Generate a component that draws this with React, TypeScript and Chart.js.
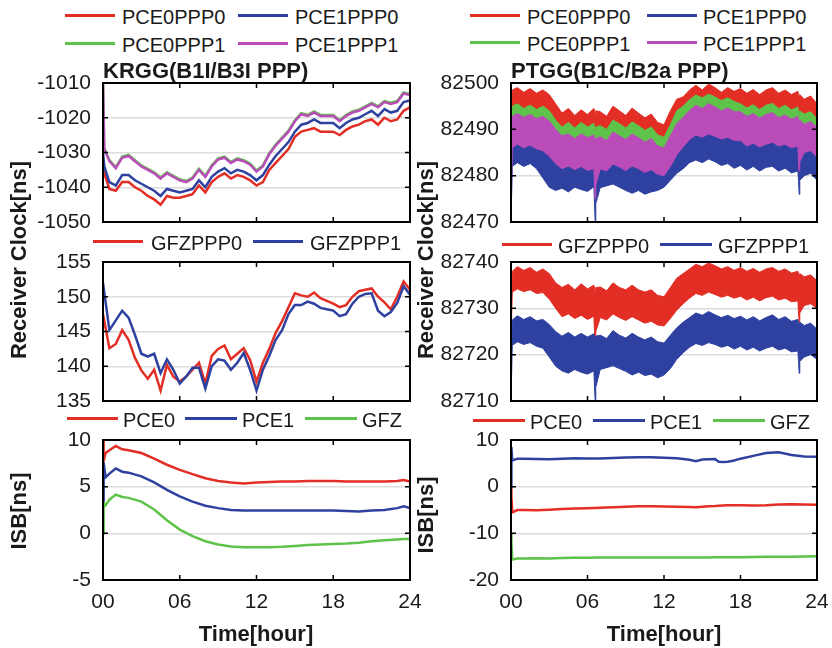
import React, { useEffect, useRef } from 'react';
import { Chart, registerables } from 'chart.js';
Chart.register(...registerables);

const FONT = '"Liberation Sans", Arial, Helvetica, sans-serif';
const RED = 'rgb(226,46,36)';
const BLUE = 'rgb(47,65,160)';
const GREEN = 'rgb(95,194,74)';
const MAGENTA = 'rgb(186,76,186)';
const TEXT = '#1a1a1a';

// ---------- labels ----------
const TOP_SERIES = ['PCE0PPP0', 'PCE1PPP0', 'PCE0PPP1', 'PCE1PPP1'];
const MID_SERIES = ['GFZPPP0', 'GFZPPP1'];
const ISB_SERIES = ['PCE0', 'PCE1', 'GFZ'];
const HOUR_TICKS = [0, 6, 12, 18, 24];
const HOUR_LABELS = ['00', '06', '12', '18', '24'];

// ---------- KRGG clock (top-left) ----------
const LT_T = [
  0, 0.1, 0.5, 1, 1.5, 2, 2.5, 3, 3.5, 4,
  4.5, 5, 5.5, 6, 6.5, 7, 7.5, 8, 8.5, 9,
  9.5, 10, 10.5, 11, 11.5, 12, 12.5, 13, 13.5, 14,
  14.5, 15, 15.5, 16, 16.5, 17, 17.5, 18, 18.5, 19,
  19.5, 20, 20.5, 21, 21.5, 22, 22.5, 23, 23.5, 24,
];
const KRGG_PCE0PPP0 = [
  -1035, -1036, -1040.5, -1041, -1038.5, -1038.5, -1040, -1041, -1042.5, -1043.5,
  -1045, -1042.5, -1043, -1043, -1042.5, -1042, -1039.5, -1041.5, -1038.5, -1037,
  -1036, -1037.5, -1036.5, -1037, -1038, -1039.5, -1038.5, -1035, -1033, -1031,
  -1029, -1025.5, -1024, -1023.5, -1023, -1024, -1024, -1024, -1025, -1023.5,
  -1022.5, -1022, -1021, -1020.5, -1022, -1020, -1021, -1020.5, -1018, -1017,
];
const KRGG_PCE1PPP0 = [
  -1030, -1034, -1038.5, -1039.5, -1036.5, -1036.5, -1038, -1039, -1040, -1041,
  -1042.5, -1040.5, -1041, -1041.5, -1041, -1040.5, -1038, -1040, -1037, -1035.5,
  -1034.5, -1036, -1035, -1035.5, -1036.5, -1038, -1036.5, -1033.5, -1031, -1029,
  -1027, -1024, -1022, -1021.5, -1020.5, -1021.5, -1021.5, -1021.5, -1023, -1021.5,
  -1020.5, -1020, -1019, -1018, -1019.5, -1017.5, -1018.5, -1018, -1015.5, -1015,
];
const KRGG_PCE0PPP1 = [
  -1010, -1028.7, -1032.2, -1034.2, -1031.2, -1030.7, -1032.2, -1033.7, -1034.7, -1035.7,
  -1037.2, -1035.7, -1036.7, -1037.7, -1038.2, -1037.2, -1034.7, -1036.7, -1033.7, -1031.7,
  -1031.2, -1032.7, -1031.7, -1032.2, -1033.2, -1035.2, -1033.7, -1030.2, -1027.7, -1025.7,
  -1023.7, -1020.7, -1018.7, -1019.2, -1018.2, -1019.2, -1019.2, -1019.2, -1020.7, -1019.2,
  -1018.2, -1017.7, -1016.7, -1015.7, -1016.7, -1015.2, -1015.7, -1015.2, -1012.7, -1013.2,
];
const KRGG_PCE1PPP1 = [
  -1010, -1029, -1032.5, -1034.5, -1031.5, -1031, -1032.5, -1034, -1035, -1036,
  -1037.5, -1036, -1037, -1038, -1038.5, -1037.5, -1035, -1037, -1034, -1032,
  -1031.5, -1033, -1032, -1032.5, -1033.5, -1035.5, -1034, -1030.5, -1028, -1026,
  -1024, -1021, -1019, -1019.5, -1018.5, -1019.5, -1019.5, -1019.5, -1021, -1019.5,
  -1018.5, -1018, -1017, -1016, -1017, -1015.5, -1016, -1015.5, -1013, -1013.5,
];

// ---------- KRGG GFZ clock (middle-left) ----------
const LM_T = [
  0, 0.5, 1, 1.5, 2, 2.5, 3, 3.5, 4, 4.5,
  5, 5.5, 6, 6.5, 7, 7.5, 8, 8.5, 9, 9.5,
  10, 10.5, 11, 11.5, 12, 12.5, 13, 13.5, 14, 14.5,
  15, 15.5, 16, 16.5, 17, 17.5, 18, 18.5, 19, 19.5,
  20, 20.5, 21, 21.5, 22, 22.5, 23, 23.5, 24,
];
const KRGG_GFZPPP0 = [
  147.5, 142.6, 143.2, 145.2, 143.8, 141.2, 139.4, 138.2, 139.5, 136.5,
  140.2, 138.5, 137.8, 138.5, 139.5, 140.5, 137.5, 141.5, 142.5, 143.0,
  141.0, 141.8, 142.6, 140.9, 137.8, 140.5, 142.5, 144.8, 146.5, 148.5,
  150.5, 150.2, 150.0, 150.6, 149.8, 149.4, 149.0, 148.5, 148.8, 150.0,
  150.8, 151.0, 151.2, 150.0, 149.2, 148.2, 150.0, 152.2, 151.0,
];
const KRGG_GFZPPP1 = [
  152.0, 145.2, 146.6, 148.0, 147.0, 144.5, 141.8, 141.4, 141.8, 139.0,
  141.0, 139.5, 137.5, 138.5, 139.8, 139.8, 136.8, 140.0, 141.0, 140.8,
  139.5, 140.5, 141.9, 139.5, 136.5, 139.5, 141.5, 143.8, 145.2, 147.5,
  148.8, 148.8, 149.3, 149.0, 148.4, 148.2, 148.0, 147.2, 147.5, 149.0,
  150.0, 150.4, 150.5, 148.0, 147.2, 147.8, 149.1, 151.5, 150.3,
];

// ---------- KRGG ISB (bottom-left) ----------
const LB_T = [0, 0.05, 0.2, 0.5, 1, 1.5, 2, 3, 4, 5, 6, 7, 8, 9, 10, 11, 12, 13, 14, 15, 16, 17, 18, 19, 20, 21, 22, 23, 23.5, 24];
const KRGG_ISB_PCE0 = [10, 7.8, 8.6, 8.9, 9.35, 9.0, 8.9, 8.6, 8.0, 7.35, 6.8, 6.35, 5.9, 5.6, 5.45, 5.35, 5.45, 5.5, 5.55, 5.55, 5.6, 5.6, 5.6, 5.55, 5.55, 5.55, 5.55, 5.6, 5.7, 5.55];
const KRGG_ISB_PCE1 = [3.3, 7.6, 6.0, 6.4, 6.95, 6.6, 6.5, 6.1, 5.45, 4.65, 3.95, 3.4, 2.95, 2.7, 2.5, 2.45, 2.45, 2.45, 2.45, 2.45, 2.45, 2.45, 2.45, 2.4, 2.35, 2.45, 2.5, 2.7, 2.9, 2.7];
const KRGG_ISB_GFZ = [0, 3.3, 3.0, 3.6, 4.15, 3.9, 3.8, 3.4, 2.55, 1.4, 0.4, -0.3, -0.85, -1.2, -1.4, -1.5, -1.5, -1.5, -1.45, -1.35, -1.25, -1.2, -1.15, -1.1, -1.0, -0.85, -0.75, -0.65, -0.6, -0.6];

// ---------- PTGG clocks (top/middle right): noise envelopes ----------
const RT_T = [
  0, 0.1, 0.5, 1, 1.5, 2, 2.5, 3, 3.5, 4,
  4.5, 5, 5.5, 6, 6.5, 6.55, 6.6, 6.65, 7, 7.5,
  8, 8.5, 9, 9.5, 10, 10.5, 11, 11.5, 12, 12.5,
  13, 13.5, 14, 14.5, 15, 15.5, 16, 16.5, 17, 17.5,
  18, 18.5, 19, 19.5, 20, 20.5, 21, 21.5, 22, 22.5,
  22.55, 22.6, 22.65, 23, 23.5, 24,
];
const PTGG_PCE0PPP0_HI = [
  82494, 82498.5, 82499, 82498, 82498.8, 82497.8, 82498.5, 82497.5, 82495.5, 82493.5,
  82494.5, 82493, 82494.2, 82493.2, 82494.5, 82494, 82493, 82494, 82493.8, 82492.8,
  82495, 82494, 82493, 82494.6, 82493.5, 82492.5, 82493.3, 82491.5, 82491, 82494,
  82496.5, 82497, 82498.5, 82499.5, 82498.5, 82499.8, 82499, 82498, 82499, 82498.2,
  82498.8, 82497.8, 82498.6, 82497.5, 82498.5, 82499, 82497.8, 82498.5, 82497.5, 82498.2,
  82497.5, 82497, 82497.5, 82496.5, 82497.2, 82495.5,
];
const PTGG_PCE0PPP0_LO = [
  82488, 82492.5, 82492.8, 82492.2, 82492.6, 82492, 82492.3, 82491.5, 82489.5, 82487.8,
  82488.2, 82487.5, 82488, 82487.4, 82488, 82486, 82484, 82486, 82487.6, 82487,
  82488.5, 82488, 82487.2, 82488, 82487.5, 82486.8, 82487, 82485.8, 82485.2, 82487.8,
  82490, 82491, 82492.2, 82493, 82492.5, 82493.2, 82492.8, 82492, 82492.6, 82492,
  82492.4, 82491.8, 82492.2, 82491.5, 82492, 82492.5, 82491.8, 82492, 82491.4, 82491.8,
  82490, 82489, 82490, 82490.5, 82490.8, 82489.5,
];
const PTGG_PCE0PPP1_HI = [
  82490, 82495, 82495.5, 82494.5, 82495.2, 82494.3, 82495, 82494, 82492, 82490.5,
  82491.5, 82490.3, 82491.5, 82490.5, 82491.3, 82490.5, 82489.5, 82490.5, 82490.8, 82490,
  82492, 82491.2, 82490.3, 82491.6, 82490.8, 82489.8, 82490.5, 82488.8, 82488.3, 82491,
  82494, 82495, 82496.4, 82497.4, 82496.8, 82497.6, 82497, 82496.2, 82496.8, 82496,
  82495.5, 82494.6, 82495.3, 82494.3, 82495.2, 82495.6, 82494.5, 82495.2, 82494.2, 82494.8,
  82494, 82493.5, 82494, 82493.3, 82493.8, 82492.3,
];
const PTGG_PCE0PPP1_LO = [
  82484, 82489, 82489.6, 82488.8, 82489.3, 82488.5, 82489, 82488.2, 82486.2, 82484.8,
  82485.4, 82484.5, 82485.3, 82484.6, 82485.2, 82483, 82481, 82483, 82484.8, 82484.2,
  82486, 82485.3, 82484.5, 82485.6, 82484.8, 82484, 82484.6, 82483, 82482.5, 82485,
  82488.3, 82489, 82490.4, 82491.3, 82490.7, 82491.6, 82490.9, 82490.1, 82490.8, 82490.1,
  82489.5, 82488.7, 82489.3, 82488.5, 82489.2, 82489.6, 82488.7, 82489.2, 82488.3, 82488.8,
  82487, 82486, 82487, 82487.3, 82487.8, 82486.5,
];
const PTGG_PCE1PPP1_HI = [
  82488, 82492.8, 82493.4, 82492.6, 82493.2, 82492.3, 82492.8, 82491.8, 82490, 82488.6,
  82489, 82488, 82489, 82488.2, 82488.8, 82488, 82487.3, 82488, 82488.4, 82487.6,
  82489.4, 82488.6, 82487.8, 82489, 82488.2, 82487.2, 82488, 82486.4, 82486, 82488.6,
  82491.2, 82492.6, 82494, 82495.2, 82494.5, 82495.6, 82494.8, 82494, 82494.6, 82493.8,
  82493.8, 82492.8, 82493.4, 82492.4, 82493.2, 82493.6, 82492.5, 82493.1, 82492.2, 82492.8,
  82492, 82491.5, 82492, 82491.1, 82491.7, 82490.4,
];
const PTGG_PCE1PPP1_LO = [
  82470, 82486, 82486.8, 82486, 82486.6, 82485.8, 82485.4, 82484.2, 82482.6, 82481.5,
  82482.1, 82481.3, 82482, 82481.1, 82481.5, 82478, 82475, 82478, 82481.5, 82481,
  82482.5, 82481.9, 82481.1, 82482.1, 82481.5, 82480.7, 82481.3, 82480.3, 82480, 82482,
  82484.5, 82486.2, 82487.8, 82488.8, 82488.3, 82489, 82488.5, 82487.9, 82488.3, 82487.6,
  82487.6, 82486.4, 82487, 82486.2, 82486.8, 82487.2, 82486.4, 82486.8, 82486, 82486.4,
  82483, 82481, 82483, 82485, 82485.4, 82484,
];
const PTGG_PCE1PPP0_HI = [
  82486, 82487.5, 82488, 82487.2, 82487.8, 82486.8, 82485.5, 82484.5, 82483.5, 82483.2,
  82483.8, 82483, 82483.6, 82482.8, 82483.4, 82483, 82482.5, 82483, 82483, 82482.4,
  82483.6, 82483, 82482.3, 82483, 82482.4, 82481.8, 82482.4, 82482, 82482.2, 82484,
  82486, 82487, 82488.2, 82489.2, 82488.8, 82490, 82489.2, 82488.2, 82488.8, 82487.8,
  82488.3, 82487.4, 82488, 82487, 82487.8, 82488, 82487, 82487.6, 82486.6, 82487,
  82486.5, 82486, 82486.5, 82485.5, 82486, 82484.5,
];
const PTGG_PCE1PPP0_LO = [
  82470, 82482, 82482.8, 82482, 82482.6, 82481.5, 82479.5, 82477.5, 82476.8, 82477.3,
  82476.5, 82477.5, 82477, 82476.6, 82477.6, 82474, 82470, 82474, 82477.4, 82477.8,
  82478.2, 82477.5, 82476.8, 82476.2, 82476.8, 82476, 82476.5, 82476.8, 82477.5, 82479,
  82480.5, 82481.5, 82482.8, 82483.4, 82482.8, 82483.6, 82483, 82482.2, 82482.6, 82481.6,
  82482.2, 82481.2, 82482, 82481, 82481.8, 82482, 82481, 82481.6, 82480.6, 82481,
  82479, 82476, 82479, 82480, 82480.5, 82479,
];
const PTGG_GFZPPP0_HI = [
  82730, 82738, 82739, 82738.2, 82738.8, 82737.8, 82738.5, 82737.5, 82735.5, 82734.5,
  82735.2, 82734, 82735.3, 82734.2, 82735, 82734.5, 82733, 82734.5, 82734.6, 82733.8,
  82735.5, 82734.5, 82734, 82735, 82734, 82733.5, 82734, 82732.8, 82732.5, 82734.5,
  82736.5, 82737.5, 82738.5, 82739.5, 82739, 82739.8, 82739.2, 82738.5, 82739, 82738.2,
  82738.8, 82738, 82738.6, 82737.8, 82738.5, 82738.8, 82738, 82738.5, 82737.6, 82738,
  82737.5, 82737, 82737.5, 82736.8, 82737.2, 82736,
];
const PTGG_GFZPPP0_LO = [
  82723, 82733.5, 82734.2, 82733.6, 82734, 82733.2, 82733.4, 82732, 82730, 82728.2,
  82728.8, 82727.8, 82728.5, 82727.6, 82728.3, 82725, 82721, 82725, 82728, 82727.5,
  82728.8, 82728, 82727.4, 82728.2, 82727.5, 82726.8, 82727.2, 82726.4, 82726.2, 82727.8,
  82729.6, 82731, 82732.2, 82733.2, 82732.8, 82733.5, 82733, 82732.4, 82732.8, 82732.2,
  82732.6, 82731.8, 82732.4, 82731.6, 82732.3, 82732.6, 82731.8, 82732.2, 82731.4, 82731.6,
  82729, 82727, 82729, 82730.6, 82731, 82730,
];
const PTGG_GFZPPP1_HI = [
  82722, 82727.5, 82728.4, 82727.6, 82728.2, 82727.3, 82727.6, 82726.5, 82725, 82724,
  82724.8, 82723.8, 82724.6, 82723.8, 82724.5, 82724, 82723, 82724, 82724.2, 82723.5,
  82725.2, 82724.2, 82723.6, 82724.6, 82723.8, 82723.2, 82723.8, 82722.8, 82722.5, 82724.2,
  82725.8, 82727, 82728, 82729, 82728.5, 82729.3, 82728.6, 82728, 82728.5, 82727.8,
  82728.3, 82727.5, 82728.2, 82727.3, 82728, 82728.6, 82727.6, 82728.2, 82727.2, 82727.6,
  82727, 82726.5, 82727, 82726.3, 82726.8, 82725.5,
];
const PTGG_GFZPPP1_LO = [
  82710, 82722, 82722.8, 82722.2, 82722.6, 82721.8, 82721.4, 82719.5, 82717.5, 82716.5,
  82716, 82716.8, 82716.2, 82715.8, 82716.5, 82713, 82710, 82713, 82716.8, 82717.2,
  82717.6, 82717, 82716.4, 82715.6, 82716.2, 82715.5, 82715.8, 82715, 82715.6, 82717,
  82719, 82720.4, 82721.6, 82722.4, 82722, 82722.6, 82722.2, 82721.6, 82722, 82721.2,
  82721.8, 82721, 82721.6, 82720.8, 82721.4, 82721.8, 82721, 82721.4, 82720.6, 82720.8,
  82718.5, 82716, 82718.5, 82719.5, 82720, 82719,
];

// ---------- PTGG ISB (bottom-right) ----------
const RB_T = [0, 0.03, 0.1, 0.5, 1, 2, 3, 4, 5, 6, 7, 8, 9, 10, 11, 12, 13, 14, 14.5, 15, 15.5, 16, 16.3, 16.6, 17, 17.5, 18, 19, 20, 21, 22, 23, 24];
const PTGG_ISB_PCE0 = [0, -2, -5.5, -5.0, -5.0, -5.05, -4.95, -4.8, -4.7, -4.6, -4.5, -4.4, -4.3, -4.2, -4.2, -4.25, -4.3, -4.35, -4.4, -4.3, -4.2, -4.15, -4.1, -4.05, -4.0, -4.0, -4.0, -4.05, -4.0, -3.8, -3.75, -3.8, -3.85];
const PTGG_ISB_PCE1 = [0, 8.5, 5.6, 6.0, 6.0, 5.95, 5.85, 6.0, 6.1, 6.05, 6.05, 6.15, 6.25, 6.3, 6.3, 6.2, 6.1, 5.75, 5.45, 5.8, 5.85, 5.9, 5.35, 5.3, 5.35, 5.6, 6.0, 6.6, 7.2, 7.35, 6.8, 6.45, 6.4];
const PTGG_ISB_GFZ = [-10, -12, -15.6, -15.4, -15.4, -15.35, -15.4, -15.3, -15.25, -15.25, -15.2, -15.2, -15.2, -15.2, -15.2, -15.2, -15.2, -15.2, -15.2, -15.2, -15.2, -15.15, -15.15, -15.15, -15.15, -15.1, -15.1, -15.05, -15.0, -15.0, -15.0, -14.95, -14.9];

// ---------- helpers ----------
function pts(t: number[], v: number[]) {
  return t.map((x, i) => ({ x, y: v[i] }));
}
function lineDS(label: string, t: number[], v: number[], color: string, width = 2.5) {
  return { label, data: pts(t, v), borderColor: color, backgroundColor: color, borderWidth: width, pointRadius: 0, tension: 0, fill: false };
}
function bandDS(label: string, t: number[], hi: number[], lo: number[], color: string) {
  return [
    { label: label + ' hi', data: pts(t, hi), borderColor: color, backgroundColor: color, borderWidth: 1, pointRadius: 0, tension: 0, fill: false },
    { label: label + ' lo', data: pts(t, lo), borderColor: color, backgroundColor: color, borderWidth: 1, pointRadius: 0, tension: 0, fill: '-1' },
  ];
}

const Y_AXIS_W = 100;
const PAD_TOP = 14;
const PAD_RIGHT = 18;
const BOTTOM_X = 46;
const BOTTOM_NOX = 6;

// Axes box and inward tick marks, drawn after everything else on the chart canvas.
const decorPlugin = {
  id: 'decor',
  afterDraw(chart: any) {
    const { ctx, chartArea: a, scales } = chart;
    const sx = scales.x, sy = scales.y;
    ctx.save();
    ctx.strokeStyle = '#000';
    ctx.lineWidth = 1.5;
    const tl = 5;
    ctx.beginPath();
    for (const v of HOUR_TICKS) {
      const px = sx.getPixelForValue(v);
      if (px < a.left + 2 || px > a.right - 2) continue;
      ctx.moveTo(px, a.bottom); ctx.lineTo(px, a.bottom - tl);
      ctx.moveTo(px, a.top); ctx.lineTo(px, a.top + tl);
    }
    for (const t of sy.ticks) {
      const py = sy.getPixelForValue(t.value);
      if (py < a.top + 2 || py > a.bottom - 2) continue;
      ctx.moveTo(a.left, py); ctx.lineTo(a.left + tl, py);
      ctx.moveTo(a.right, py); ctx.lineTo(a.right - tl, py);
    }
    ctx.stroke();
    ctx.lineWidth = 2;
    ctx.strokeRect(a.left, a.top, a.right - a.left, a.bottom - a.top);
    ctx.restore();
  },
};

type Spec = {
  plotLeft: number; plotTop: number; plotW: number; plotH: number;
  yMin: number; yMax: number; yStep: number; showX: boolean; datasets: any[];
};

function Panel({ spec }: { spec: Spec }) {
  const ref = useRef<HTMLCanvasElement>(null);
  const bottom = spec.showX ? BOTTOM_X : BOTTOM_NOX;
  const w = spec.plotW + Y_AXIS_W + PAD_RIGHT;
  const h = spec.plotH + PAD_TOP + bottom;
  useEffect(() => {
    const chart = new Chart(ref.current as HTMLCanvasElement, {
      type: 'line',
      data: { datasets: spec.datasets },
      options: {
        responsive: false,
        animation: false,
        events: [],
        layout: { padding: { top: PAD_TOP, right: PAD_RIGHT, left: 0, bottom: 0 } },
        plugins: { legend: { display: false }, tooltip: { enabled: false }, title: { display: false } },
        scales: {
          x: {
            type: 'linear', min: 0, max: 24,
            ticks: {
              stepSize: 6, display: spec.showX, padding: 10, maxRotation: 0, autoSkip: false,
              font: { family: FONT, size: 21 }, color: TEXT,
              callback: (v: any) => { const i = HOUR_TICKS.indexOf(Number(v)); return i >= 0 ? HOUR_LABELS[i] : ''; },
            },
            grid: { display: false, drawTicks: false },
            border: { display: false },
            afterFit: (s: any) => { s.height = bottom; s.paddingLeft = 0; s.paddingRight = 0; },
          },
          y: {
            type: 'linear', min: spec.yMin, max: spec.yMax,
            ticks: {
              stepSize: spec.yStep, padding: 12,
              font: { family: FONT, size: 21 }, color: TEXT,
              callback: (v: any) => String(v),
            },
            grid: { color: '#dcdcdc', lineWidth: 1.5, drawTicks: false },
            border: { display: false },
            afterFit: (s: any) => { s.width = Y_AXIS_W; s.paddingTop = 0; s.paddingBottom = 0; },
          },
        },
      } as any,
      plugins: [decorPlugin],
    });
    return () => chart.destroy();
  }, []);
  return (
    <canvas
      ref={ref}
      width={w}
      height={h}
      style={{ position: 'absolute', left: spec.plotLeft - Y_AXIS_W, top: spec.plotTop - PAD_TOP, width: w, height: h }}
    />
  );
}

function LegendItem({ x1, x2, y, color, tx, label }: { x1: number; x2: number; y: number; color: string; tx: number; label: string }) {
  return (
    <>
      <div style={{ position: 'absolute', left: x1, top: y - 1.5, width: x2 - x1, height: 3, background: color }} />
      <div style={{ position: 'absolute', left: tx, top: y - 10.5, font: `20px ${FONT}`, lineHeight: '24px', color: TEXT, whiteSpace: 'nowrap' }}>{label}</div>
    </>
  );
}

function Text({ x, y, size, children, rotate }: { x: number; y: number; size: number; children: any; rotate?: boolean }) {
  return (
    <div
      style={{
        position: 'absolute', left: x, top: y, font: `bold ${size}px ${FONT}`, lineHeight: '24px', color: TEXT, whiteSpace: 'nowrap',
        transform: rotate ? 'translate(-50%,-50%) rotate(-90deg)' : 'translate(-50%,-50%)',
      }}
    >
      {children}
    </div>
  );
}

function Box({ s }: { s: Spec }) {
  return (
    <div
      style={{
        position: 'absolute', left: s.plotLeft - 1, top: s.plotTop - 1, width: s.plotW + 2, height: s.plotH + 2,
        border: '2px solid #000', boxSizing: 'border-box', zIndex: 5, pointerEvents: 'none',
      }}
    />
  );
}

export default function App() {
  const L = 103, LW = 307, R = 511, RW = 306;
  const T1 = 83, T2 = 262, T3 = 440, H = 139;

  const specs: Spec[] = [
    {
      plotLeft: L, plotTop: T1, plotW: LW, plotH: H, yMin: -1050, yMax: -1010, yStep: 10, showX: false,
      datasets: [
        lineDS(TOP_SERIES[3], LT_T, KRGG_PCE1PPP1, MAGENTA),
        lineDS(TOP_SERIES[2], LT_T, KRGG_PCE0PPP1, GREEN),
        lineDS(TOP_SERIES[1], LT_T, KRGG_PCE1PPP0, BLUE),
        lineDS(TOP_SERIES[0], LT_T, KRGG_PCE0PPP0, RED),
      ],
    },
    {
      plotLeft: L, plotTop: T2, plotW: LW, plotH: H, yMin: 135, yMax: 155, yStep: 5, showX: false,
      datasets: [
        lineDS(MID_SERIES[1], LM_T, KRGG_GFZPPP1, BLUE),
        lineDS(MID_SERIES[0], LM_T, KRGG_GFZPPP0, RED),
      ],
    },
    {
      plotLeft: L, plotTop: T3, plotW: LW, plotH: H + 1, yMin: -5, yMax: 10, yStep: 5, showX: true,
      datasets: [
        lineDS(ISB_SERIES[2], LB_T, KRGG_ISB_GFZ, GREEN),
        lineDS(ISB_SERIES[1], LB_T, KRGG_ISB_PCE1, BLUE),
        lineDS(ISB_SERIES[0], LB_T, KRGG_ISB_PCE0, RED),
      ],
    },
    {
      plotLeft: R, plotTop: T1, plotW: RW, plotH: H, yMin: 82470, yMax: 82500, yStep: 10, showX: false,
      datasets: [
        ...bandDS(TOP_SERIES[3], RT_T, PTGG_PCE1PPP1_HI, PTGG_PCE1PPP1_LO, MAGENTA),
        ...bandDS(TOP_SERIES[2], RT_T, PTGG_PCE0PPP1_HI, PTGG_PCE0PPP1_LO, GREEN),
        ...bandDS(TOP_SERIES[1], RT_T, PTGG_PCE1PPP0_HI, PTGG_PCE1PPP0_LO, BLUE),
        ...bandDS(TOP_SERIES[0], RT_T, PTGG_PCE0PPP0_HI, PTGG_PCE0PPP0_LO, RED),
      ],
    },
    {
      plotLeft: R, plotTop: T2, plotW: RW, plotH: H, yMin: 82710, yMax: 82740, yStep: 10, showX: false,
      datasets: [
        ...bandDS(MID_SERIES[1], RT_T, PTGG_GFZPPP1_HI, PTGG_GFZPPP1_LO, BLUE),
        ...bandDS(MID_SERIES[0], RT_T, PTGG_GFZPPP0_HI, PTGG_GFZPPP0_LO, RED),
      ],
    },
    {
      plotLeft: R, plotTop: T3, plotW: RW, plotH: H + 1, yMin: -20, yMax: 10, yStep: 10, showX: true,
      datasets: [
        lineDS(ISB_SERIES[2], RB_T, PTGG_ISB_GFZ, GREEN),
        lineDS(ISB_SERIES[1], RB_T, PTGG_ISB_PCE1, BLUE),
        lineDS(ISB_SERIES[0], RB_T, PTGG_ISB_PCE0, RED),
      ],
    },
  ];

  return (
    <div style={{ position: 'fixed', left: 0, top: 0, width: 832, height: 648, background: '#fff', overflow: 'hidden' }}>
      {specs.map((s, i) => <Panel key={i} spec={s} />)}
      {specs.map((s, i) => <Box key={'b' + i} s={s} />)}

      <LegendItem x1={65} x2={115} y={15} color={RED} tx={122} label={TOP_SERIES[0]} />
      <LegendItem x1={238} x2={288} y={15} color={BLUE} tx={295} label={TOP_SERIES[1]} />
      <LegendItem x1={65} x2={115} y={43} color={GREEN} tx={122} label={TOP_SERIES[2]} />
      <LegendItem x1={238} x2={288} y={43} color={MAGENTA} tx={295} label={TOP_SERIES[3]} />
      <LegendItem x1={470} x2={520} y={15} color={RED} tx={527} label={TOP_SERIES[0]} />
      <LegendItem x1={647} x2={697} y={15} color={BLUE} tx={703} label={TOP_SERIES[1]} />
      <LegendItem x1={470} x2={520} y={42} color={GREEN} tx={527} label={TOP_SERIES[2]} />
      <LegendItem x1={647} x2={697} y={42} color={MAGENTA} tx={703} label={TOP_SERIES[3]} />

      <LegendItem x1={93} x2={143} y={241} color={RED} tx={151} label={MID_SERIES[0]} />
      <LegendItem x1={253} x2={303} y={241} color={BLUE} tx={310} label={MID_SERIES[1]} />
      <LegendItem x1={502} x2={552} y={244} color={RED} tx={558} label={MID_SERIES[0]} />
      <LegendItem x1={660} x2={712} y={244} color={BLUE} tx={718} label={MID_SERIES[1]} />

      <LegendItem x1={67} x2={118} y={418} color={RED} tx={123} label={ISB_SERIES[0]} />
      <LegendItem x1={185} x2={237} y={418} color={BLUE} tx={242} label={ISB_SERIES[1]} />
      <LegendItem x1={305} x2={357} y={418} color={GREEN} tx={362} label={ISB_SERIES[2]} />
      <LegendItem x1={473} x2={525} y={420} color={RED} tx={530} label={ISB_SERIES[0]} />
      <LegendItem x1={593} x2={645} y={420} color={BLUE} tx={650} label={ISB_SERIES[1]} />
      <LegendItem x1={713} x2={765} y={420} color={GREEN} tx={770} label={ISB_SERIES[2]} />

      <div style={{ position: 'absolute', left: 103, top: 59, font: `bold 22px ${FONT}`, lineHeight: '24px', color: TEXT, whiteSpace: 'nowrap' }}>KRGG(B1I/B3I PPP)</div>
      <div style={{ position: 'absolute', left: 511, top: 59, font: `bold 22px ${FONT}`, lineHeight: '24px', color: TEXT, whiteSpace: 'nowrap' }}>PTGG(B1C/B2a PPP)</div>

      <Text x={19} y={260} size={22} rotate>Receiver Clock[ns]</Text>
      <Text x={426} y={260} size={22} rotate>Receiver Clock[ns]</Text>
      <Text x={19} y={511} size={22} rotate>ISB[ns]</Text>
      <Text x={426} y={515} size={22} rotate>ISB[ns]</Text>
      <Text x={256} y={634} size={22}>Time[hour]</Text>
      <Text x={664} y={634} size={22}>Time[hour]</Text>
    </div>
  );
}
